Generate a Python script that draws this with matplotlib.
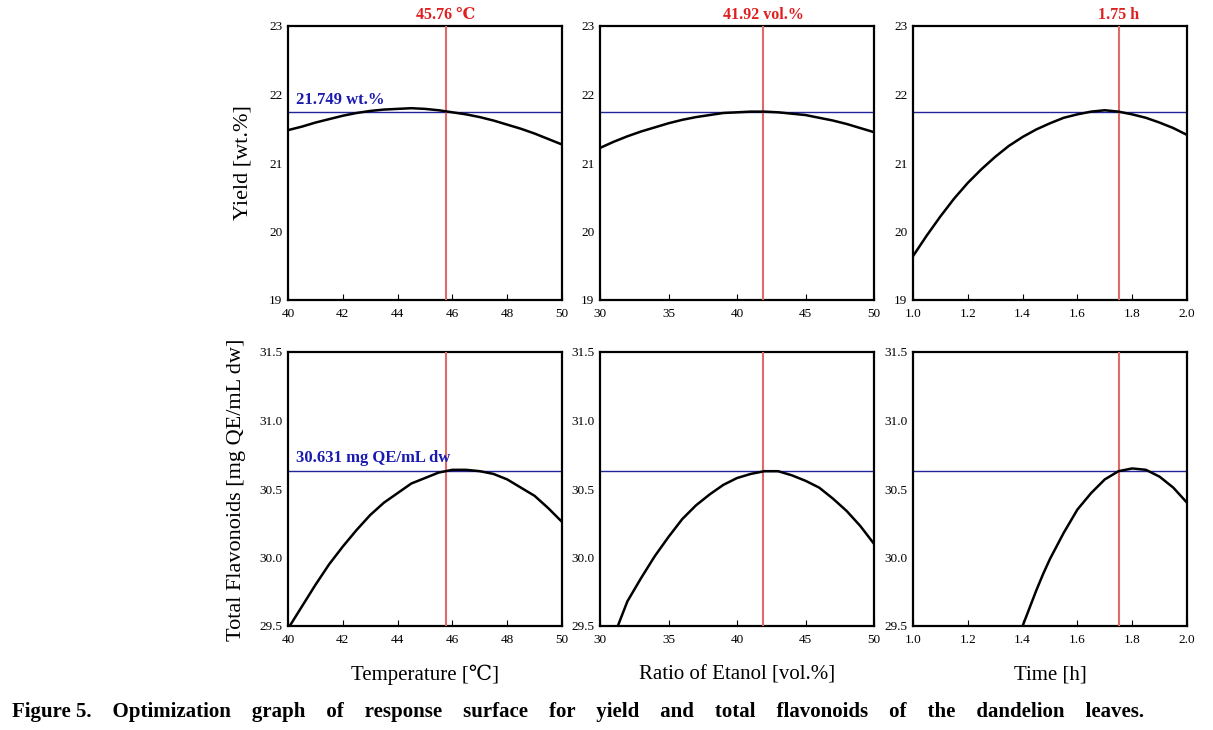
import matplotlib
matplotlib.use("Agg")
import matplotlib.pyplot as plt

plt.rcParams['font.family'] = ['Liberation Serif', 'DejaVu Serif']

# Optimum values
opt_temp = 45.76
opt_etoh = 41.92
opt_time = 1.75
opt_yield = 21.749
opt_flav = 30.631

# Yield curves
temp_x = [40, 40.5, 41, 41.5, 42, 42.5, 43, 43.5, 44, 44.5, 45, 45.5, 46, 46.5, 47,
          47.5, 48, 48.5, 49, 49.5, 50]
yield_temp = [21.48, 21.53, 21.59, 21.64, 21.69, 21.73, 21.76, 21.78, 21.79, 21.80, 21.79,
              21.77, 21.74, 21.71, 21.67, 21.62, 21.56, 21.50, 21.43, 21.35, 21.27]

etoh_x = [30, 31, 32, 33, 34, 35, 36, 37, 38, 39, 40, 41, 42, 43, 44, 45, 46, 47, 48, 49, 50]
yield_etoh = [21.22, 21.31, 21.39, 21.46, 21.52, 21.58, 21.63, 21.67, 21.70, 21.73, 21.74,
              21.75, 21.75, 21.74, 21.72, 21.70, 21.66, 21.62, 21.57, 21.51, 21.45]

time_x = [1.0, 1.05, 1.1, 1.15, 1.2, 1.25, 1.3, 1.35, 1.4, 1.45, 1.5, 1.55, 1.6,
          1.65, 1.7, 1.75, 1.8, 1.85, 1.9, 1.95, 2.0]
yield_time = [19.64, 19.94, 20.22, 20.48, 20.71, 20.91, 21.09, 21.25, 21.38, 21.49, 21.58,
              21.66, 21.71, 21.75, 21.77, 21.75, 21.71, 21.66, 21.59, 21.51, 21.41]

# Total flavonoid curves
flav_temp_x = [40, 40.5, 41, 41.5, 42, 42.5, 43, 43.5, 44, 44.5, 45, 45.5, 46, 46.5, 47,
               47.5, 48, 48.5, 49, 49.5, 50]
flav_temp = [29.48, 29.64, 29.80, 29.95, 30.08, 30.20, 30.31, 30.40, 30.47, 30.54, 30.58,
             30.62, 30.64, 30.64, 30.63, 30.61, 30.57, 30.51, 30.45, 30.36, 30.26]

flav_etoh_x = [31.3, 32, 33, 34, 35, 36, 37, 38, 39, 40, 41, 42, 43, 44, 45, 46, 47, 48, 49, 50]
flav_etoh = [29.50, 29.68, 29.85, 30.01, 30.15, 30.28, 30.38, 30.46, 30.53, 30.58, 30.61,
             30.63, 30.63, 30.60, 30.56, 30.51, 30.43, 30.34, 30.23, 30.10]

flav_time_x = [1.40, 1.425, 1.45, 1.475, 1.5, 1.55, 1.6, 1.65, 1.7, 1.75, 1.8, 1.85, 1.9, 1.95, 2.0]
flav_time = [29.50, 29.63, 29.76, 29.88, 29.99, 30.18, 30.35, 30.47, 30.57, 30.63, 30.65,
             30.64, 30.59, 30.51, 30.40]

fig = plt.figure(figsize=(12.13, 7.30), dpi=100)

lefts = [288 / 1213, 600 / 1213, 913 / 1213]
w = 274 / 1213
top_b, bot_b = 1 - 300 / 730, 1 - 626 / 730
h = 274 / 730

red = '#e06a6a'
blue = '#23239a'

panels = [
    (lefts[0], top_b, temp_x, yield_temp, (40, 50), [40, 42, 44, 46, 48, 50], '{:.0f}',
     (19, 23), [19, 20, 21, 22, 23], '{:.0f}', opt_temp, opt_yield),
    (lefts[1], top_b, etoh_x, yield_etoh, (30, 50), [30, 35, 40, 45, 50], '{:.0f}',
     (19, 23), [19, 20, 21, 22, 23], '{:.0f}', opt_etoh, opt_yield),
    (lefts[2], top_b, time_x, yield_time, (1, 2), [1.0, 1.2, 1.4, 1.6, 1.8, 2.0], '{:.1f}',
     (19, 23), [19, 20, 21, 22, 23], '{:.0f}', opt_time, opt_yield),
    (lefts[0], bot_b, flav_temp_x, flav_temp, (40, 50), [40, 42, 44, 46, 48, 50], '{:.0f}',
     (29.5, 31.5), [29.5, 30.0, 30.5, 31.0, 31.5], '{:.1f}', opt_temp, opt_flav),
    (lefts[1], bot_b, flav_etoh_x, flav_etoh, (30, 50), [30, 35, 40, 45, 50], '{:.0f}',
     (29.5, 31.5), [29.5, 30.0, 30.5, 31.0, 31.5], '{:.1f}', opt_etoh, opt_flav),
    (lefts[2], bot_b, flav_time_x, flav_time, (1, 2), [1.0, 1.2, 1.4, 1.6, 1.8, 2.0], '{:.1f}',
     (29.5, 31.5), [29.5, 30.0, 30.5, 31.0, 31.5], '{:.1f}', opt_time, opt_flav),
]

axes = []
for (l, b, x, y, xlim, xt, xf, ylim, yt, yf, xo, yo) in panels:
    ax = fig.add_axes([l, b, w, h])
    ax.axhline(yo, color=blue, lw=1.0, zorder=2)
    ax.axvline(xo, color=red, lw=1.5, zorder=3)
    ax.plot(x, y, color='black', lw=1.8, zorder=4)
    ax.set_xlim(*xlim)
    ax.set_ylim(*ylim)
    ax.set_xticks(xt)
    ax.set_xticklabels([xf.format(v) for v in xt])
    ax.set_yticks(yt)
    ax.set_yticklabels([yf.format(v) for v in yt])
    ax.tick_params(axis='x', direction='in', length=4, width=0.8, labelsize=9.5, pad=6)
    ax.tick_params(axis='y', length=0, labelsize=9.5, pad=4)
    for s in ax.spines.values():
        s.set_linewidth(1.6)
    axes.append(ax)

# optimum titles
axes[0].text(opt_temp, 23.05, '45.76 \u2103', color='#e02020', fontsize=11.5, fontweight='bold',
             ha='center', va='bottom')
axes[1].text(opt_etoh, 23.05, '41.92 vol.%', color='#e02020', fontsize=11.5, fontweight='bold',
             ha='center', va='bottom')
axes[2].text(opt_time, 23.05, '1.75 h', color='#e02020', fontsize=11.5, fontweight='bold',
             ha='center', va='bottom')

axes[0].text(40.3, opt_yield + 0.05, '21.749 wt.%', color='#1a1ab0', fontsize=12,
             fontweight='bold', ha='left', va='bottom')
axes[3].text(40.3, opt_flav + 0.04, '30.631 mg QE/mL dw', color='#1a1ab0', fontsize=12,
             fontweight='bold', ha='left', va='bottom')

fig.text(243 / 1213, 1 - 163 / 730, 'Yield [wt.%]', rotation=90, fontsize=16,
         ha='center', va='center')
fig.text(236 / 1213, 1 - 490 / 730, 'Total Flavonoids [mg QE/mL dw]', rotation=90,
         fontsize=16, ha='center', va='center')

fig.text(425 / 1213, 1 - 675 / 730, 'Temperature [\u2103]', fontsize=15, ha='center', va='center')
fig.text(737 / 1213, 1 - 675 / 730, 'Ratio of Etanol [vol.%]', fontsize=15, ha='center', va='center')
fig.text(1050 / 1213, 1 - 675 / 730, 'Time [h]', fontsize=15, ha='center', va='center')

caption_words = ['Figure', '5.', 'Optimization', 'graph', 'of', 'response', 'surface', 'for',
                 'yield', 'and', 'total', 'flavonoids', 'of', 'the', 'dandelion', 'leaves.']
fig.text(12 / 1213, 1 - 712 / 730, '    '.join(caption_words).replace('Figure    5.', 'Figure 5.'),
         fontsize=15, fontweight='bold', ha='left', va='center')

fig.savefig('out.png', dpi=100)
